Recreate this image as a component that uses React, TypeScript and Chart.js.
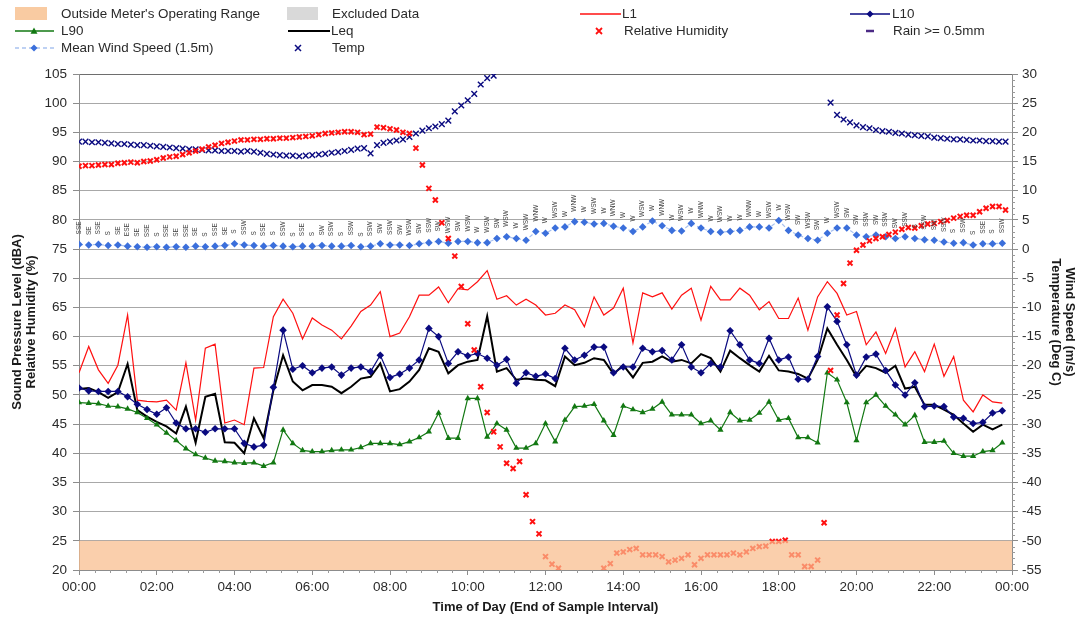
import React, { useEffect, useRef } from "react";
import { Chart, registerables } from "chart.js";
Chart.register(...registerables);

const FONT = "'Liberation Sans', Arial, Helvetica, sans-serif";

// x tick labels (every 2 hours)
const xTickLabels = ["00:00", "02:00", "04:00", "06:00", "08:00", "10:00", "12:00", "14:00", "16:00", "18:00", "20:00", "22:00", "00:00"];

// 15-minute noise statistics (dBA), 00:00 .. 23:45
const L1 = [53.8, 58.3, 54.3, 52.0, 55.1, 63.7, 49.1, 48.9, 48.8, 49.1, 47.4, 55.5, 45.7, 58.0, 58.7, 45.2, 45.7, 44.9, 54.6, 54.7, 63.4, 66.4, 64.0, 59.6, 63.2, 62.0, 61.1, 59.6, 61.8, 64.3, 65.4, 67.7, 60.0, 60.6, 63.4, 67.1, 67.1, 68.5, 65.8, 68.2, 68.0, 69.4, 71.3, 66.4, 67.0, 65.4, 66.4, 65.4, 63.7, 64.0, 65.4, 64.6, 61.7, 66.8, 63.7, 64.9, 68.3, 58.9, 67.5, 66.8, 67.5, 64.7, 67.1, 68.3, 62.8, 68.6, 66.3, 66.3, 68.3, 67.1, 64.6, 66.0, 63.1, 63.1, 66.6, 61.1, 66.8, 69.4, 67.4, 63.7, 64.3, 58.6, 60.8, 57.1, 61.4, 54.8, 57.4, 54.0, 58.7, 53.2, 56.6, 49.1, 47.1, 50.0, 48.8, 48.6];
const L10 = [51.2, 50.7, 50.6, 50.6, 50.6, 49.7, 48.4, 47.5, 46.7, 47.8, 45.2, 44.2, 44.2, 43.6, 44.2, 44.2, 44.2, 41.7, 41.1, 41.4, 51.3, 61.1, 54.4, 55.0, 53.8, 54.6, 54.8, 53.4, 54.6, 54.8, 54.0, 56.8, 53.0, 53.6, 54.6, 56.0, 61.4, 60.0, 55.4, 57.4, 56.7, 57.1, 56.3, 55.1, 56.1, 52.0, 53.8, 53.2, 53.6, 52.8, 58.0, 56.0, 56.8, 58.2, 58.2, 53.8, 54.8, 54.8, 58.0, 57.4, 57.6, 56.0, 58.6, 54.8, 53.8, 55.4, 54.8, 61.0, 58.6, 56.0, 55.4, 59.7, 56.0, 56.5, 52.7, 52.7, 56.6, 65.1, 62.6, 58.6, 53.4, 56.5, 57.0, 54.2, 51.7, 50.0, 52.1, 48.0, 48.1, 48.0, 46.2, 46.0, 45.1, 45.3, 46.9, 47.3];
const L90 = [48.7, 48.6, 48.5, 48.1, 48.0, 47.6, 47.0, 46.0, 44.9, 43.5, 42.2, 40.8, 39.8, 39.2, 38.7, 38.6, 38.4, 38.3, 38.4, 37.8, 38.4, 44.0, 41.7, 40.5, 40.3, 40.3, 40.5, 40.6, 40.6, 41.0, 41.7, 41.7, 41.7, 41.5, 42.0, 42.7, 43.7, 46.9, 42.6, 42.6, 49.4, 49.4, 42.8, 45.1, 44.0, 40.9, 40.9, 41.7, 45.1, 42.0, 45.7, 48.0, 48.1, 48.4, 45.6, 43.1, 48.1, 47.5, 47.0, 47.6, 48.8, 46.6, 46.6, 46.6, 45.1, 45.6, 44.0, 47.0, 45.6, 45.7, 46.9, 48.8, 45.7, 46.0, 42.7, 42.7, 41.8, 53.8, 52.6, 48.7, 42.2, 48.7, 50.0, 48.1, 46.6, 44.9, 46.5, 41.9, 41.9, 42.1, 40.0, 39.5, 39.5, 40.3, 40.5, 41.8];
const Leq = [51.0, 51.2, 50.5, 49.5, 50.5, 55.3, 47.4, 46.3, 45.4, 44.6, 43.4, 48.0, 41.8, 49.7, 50.2, 41.9, 41.8, 40.0, 46.0, 42.6, 50.8, 56.8, 52.3, 50.8, 51.7, 51.7, 51.4, 50.3, 51.4, 52.8, 53.1, 55.4, 50.6, 51.0, 52.3, 54.3, 58.0, 57.4, 53.7, 55.1, 55.7, 56.0, 63.5, 54.0, 54.6, 52.6, 52.8, 52.6, 52.5, 51.5, 56.6, 55.1, 55.5, 56.3, 56.0, 53.6, 55.1, 53.0, 55.5, 55.7, 56.6, 55.7, 56.0, 55.4, 57.0, 56.3, 54.0, 57.6, 56.3, 55.1, 54.0, 56.7, 54.2, 54.0, 53.6, 52.8, 56.0, 61.4, 58.6, 56.0, 53.1, 55.0, 54.6, 53.8, 55.0, 51.1, 51.4, 48.3, 48.3, 47.5, 46.6, 45.1, 43.7, 44.9, 44.1, 44.9];

// 15-minute mean wind speed (m/s) and direction
const windSpeed = [0.8, 0.7, 0.8, 0.6, 0.7, 0.5, 0.4, 0.3, 0.4, 0.3, 0.4, 0.3, 0.5, 0.4, 0.5, 0.6, 0.9, 0.7, 0.6, 0.5, 0.6, 0.5, 0.4, 0.5, 0.5, 0.6, 0.5, 0.5, 0.6, 0.4, 0.5, 0.9, 0.7, 0.7, 0.6, 0.9, 1.1, 1.3, 1.0, 1.3, 1.3, 1.1, 1.1, 1.8, 2.1, 1.8, 1.5, 3.0, 2.7, 3.6, 3.8, 4.7, 4.6, 4.3, 4.4, 3.9, 3.6, 3.0, 3.8, 4.8, 4.0, 3.2, 3.1, 4.4, 3.6, 3.0, 2.9, 3.0, 3.2, 3.8, 3.8, 3.6, 4.9, 3.2, 2.4, 1.8, 1.5, 2.7, 3.6, 3.6, 2.4, 2.1, 2.4, 2.1, 1.8, 2.1, 1.8, 1.6, 1.5, 1.2, 1.0, 1.1, 0.7, 0.9, 0.9, 1.0];
const windDir = [
  "SSE", "SE", "SSE", "S", "SE", "ESE", "SE", "SSE", "S", "SSE",
  "SE", "SSE", "SE", "S", "SSE", "SE", "S", "SSW", "S", "SSE",
  "S", "SSW", "S", "SSE", "S", "SW", "SSW", "S", "SSW", "S",
  "SSW", "SW", "SSW", "SW", "WSW", "SW", "SSW", "SW", "WSW", "SW",
  "WSW", "W", "WSW", "SW", "WSW", "W", "WSW", "WNW", "W", "WSW",
  "W", "WNW", "W", "WSW", "W", "WNW", "W", "W", "WSW", "W",
  "WNW", "W", "WSW", "W", "WNW", "W", "WSW", "W", "W", "WNW",
  "W", "WSW", "W", "WSW", "SW", "WSW", "SW", "W", "WSW", "SW",
  "SW", "SSW", "SW", "SSW", "SW", "SSW", "S", "SSW", "SW", "SSW",
  "S", "SSW", "S", "SSE", "S", "SSW"
];

// 10-minute temperature (deg C), 00:00 .. 23:50 (null = off chart)
const temperature = [18.4, 18.4, 18.3, 18.3, 18.2, 18.1, 18.0, 18.0, 17.9, 17.8, 17.8, 17.7, 17.6, 17.5, 17.4, 17.3, 17.2, 17.1, 17.1, 17.0, 16.9, 16.9, 16.8, 16.8, 16.8, 16.7, 16.8, 16.7, 16.5, 16.3, 16.2, 16.1, 16.0, 16.0, 15.9, 16.0, 16.1, 16.2, 16.3, 16.5, 16.6, 16.8, 17.0, 17.2, 17.3, 16.4, 17.8, 18.2, 18.4, 18.6, 18.8, 19.2, 19.8, 20.3, 20.7, 21.0, 21.4, 22.0, 23.6, 24.6, 25.5, 26.6, 28.2, 29.3, 29.7,
  null, null, null, null, null, null, null, null, null, null, null, null, null, null, null, null, null, null, null, null, null, null, null, null, null, null, null, null, null, null, null, null, null, null, null, null, null, null, null, null, null, null, null, null, null, null, null, null, null, null, null,
  25.1, 23.0, 22.2, 21.7, 21.2, 20.9, 20.7, 20.4, 20.2, 20.1, 19.9, 19.8, 19.6, 19.5, 19.4, 19.3, 19.1, 19.0, 18.9, 18.8, 18.8, 18.7, 18.6, 18.6, 18.5, 18.5, 18.4, 18.4];

// 10-minute relative humidity (%), 00:00 .. 23:50 (null = below axis)
const humidity = [89.2, 89.3, 89.3, 89.4, 89.5, 89.5, 89.7, 89.8, 89.9, 89.8, 90.0, 90.1, 90.3, 90.6, 90.8, 90.9, 91.2, 91.5, 91.8, 92.1, 92.5, 92.8, 93.1, 93.3, 93.5, 93.7, 93.7, 93.8, 93.8, 93.9, 93.9, 94.0, 94.0, 94.1, 94.2, 94.3, 94.4, 94.6, 94.8, 94.9, 95.0, 95.1, 95.1, 95.0, 94.6, 94.7, 95.9, 95.8, 95.6, 95.4, 95.0, 94.8,
  92.3, 89.4, 85.4, 83.4, 79.5, 76.8, 73.8, 68.6, 62.2, 57.7, 51.4, 47.0, 43.7, 41.1, 38.3, 37.4, 38.6, 32.9, 28.3, 26.2, 22.3, 21.0, 20.3,
  null, null, null, null, null, null,
  20.3, 21.1, 22.9, 23.1, 23.5, 23.7, 22.6, 22.6, 22.6, 22.3, 21.4, 21.7, 22.0, 22.6, 20.9, 22.0, 22.6, 22.6, 22.6, 22.6, 22.9, 22.6, 23.1, 23.7, 24.0, 24.1, 24.9, 24.9, 25.1, 22.6, 22.6, 20.6, 20.6, 21.7, 28.1,
  54.2, 63.7, 69.1, 72.6, 74.8, 75.7, 76.4, 76.8, 77.1, 77.5, 77.9, 78.4, 78.7, 78.6, 79.0, 79.3, 79.4, 79.7, 79.9, 80.3, 80.6, 80.8, 80.8, 81.4, 82.0, 82.3, 82.3, 81.7];

const legendLabels = {
  band: "Outside Meter's Operating Range",
  excluded: "Excluded Data",
  l1: "L1",
  l10: "L10",
  l90: "L90",
  leq: "Leq",
  rh: "Relative Humidity",
  rain: "Rain >= 0.5mm",
  wind: "Mean Wind Speed (1.5m)",
  temp: "Temp",
};

const RED = "#FF1010";
const NAVY = "#0A0A80";
const GREEN = "#127812";
const WIND_BLUE = "#3B6FDB";
const WIND_LINE = "#A9C2F0";
const TEXT = "#2A2A2A";

const every15 = (arr: number[]) => arr.map((y, i) => ({ x: i * 15, y }));
const every10 = (arr: (number | null)[]) => arr.map((y, i) => ({ x: i * 10, y }));

function diamond(ctx: CanvasRenderingContext2D, x: number, y: number, r: number) {
  ctx.beginPath();
  ctx.moveTo(x, y - r);
  ctx.lineTo(x + r, y);
  ctx.lineTo(x, y + r);
  ctx.lineTo(x - r, y);
  ctx.closePath();
  ctx.fill();
}
function triangle(ctx: CanvasRenderingContext2D, x: number, y: number, r: number) {
  ctx.beginPath();
  ctx.moveTo(x, y - r);
  ctx.lineTo(x + r, y + r * 0.75);
  ctx.lineTo(x - r, y + r * 0.75);
  ctx.closePath();
  ctx.fill();
}
function cross(ctx: CanvasRenderingContext2D, x: number, y: number, r: number) {
  ctx.beginPath();
  ctx.moveTo(x - r, y - r);
  ctx.lineTo(x + r, y + r);
  ctx.moveTo(x + r, y - r);
  ctx.lineTo(x - r, y + r);
  ctx.stroke();
}
function hline(ctx: CanvasRenderingContext2D, x1: number, x2: number, y: number, color: string, w: number, dash: number[] = []) {
  ctx.save();
  ctx.strokeStyle = color;
  ctx.lineWidth = w;
  ctx.setLineDash(dash);
  ctx.beginPath();
  ctx.moveTo(x1, y);
  ctx.lineTo(x2, y);
  ctx.stroke();
  ctx.restore();
}

const legendPlugin = {
  id: "customLegend",
  afterDraw(chart: any) {
    const ctx: CanvasRenderingContext2D = chart.ctx;
    ctx.save();
    const r1 = 14, r2 = 31, r3 = 48;
    // row 1
    ctx.fillStyle = "#F9CBA2";
    ctx.fillRect(15, 7, 32, 13);
    ctx.fillStyle = "#D9D9D9";
    ctx.fillRect(287, 7, 31, 13);
    hline(ctx, 580, 621, r1, RED, 1.3);
    hline(ctx, 850, 890, r1, NAVY, 1.3);
    ctx.fillStyle = NAVY;
    diamond(ctx, 870, r1, 3.5);
    // row 2
    hline(ctx, 15, 54, r2, GREEN, 1.3);
    ctx.fillStyle = GREEN;
    triangle(ctx, 34, r2, 3.5);
    hline(ctx, 288, 330, r2, "#000", 2);
    ctx.strokeStyle = RED;
    ctx.lineWidth = 1.8;
    cross(ctx, 599, r2, 3);
    hline(ctx, 866, 874, r2, "#4B2A85", 2.5);
    // row 3
    hline(ctx, 15, 54, r3, WIND_LINE, 1.3, [4, 3]);
    ctx.fillStyle = WIND_BLUE;
    diamond(ctx, 34, r3, 3.5);
    ctx.strokeStyle = NAVY;
    ctx.lineWidth = 1.5;
    cross(ctx, 298, r3, 3);
    // texts
    ctx.fillStyle = TEXT;
    ctx.font = `13.4px ${FONT}`;
    ctx.textBaseline = "middle";
    ctx.textAlign = "left";
    ctx.fillText(legendLabels.band, 61, r1);
    ctx.fillText(legendLabels.excluded, 332, r1);
    ctx.fillText(legendLabels.l1, 622, r1);
    ctx.fillText(legendLabels.l10, 892, r1);
    ctx.fillText(legendLabels.l90, 61, r2);
    ctx.fillText(legendLabels.leq, 331, r2);
    ctx.fillText(legendLabels.rh, 624, r2);
    ctx.fillText(legendLabels.rain, 893, r2);
    ctx.fillText(legendLabels.wind, 61, r3);
    ctx.fillText(legendLabels.temp, 332, r3);
    ctx.restore();
  },
};

const overlayPlugin = {
  id: "overlays",
  afterDatasetsDraw(chart: any) {
    const ctx: CanvasRenderingContext2D = chart.ctx;
    const xs = chart.scales.x;
    const y = chart.scales.y;
    const y1 = chart.scales.y1;
    const area = chart.chartArea;
    ctx.save();
    // wind direction labels
    ctx.fillStyle = "#3E3E3E";
    ctx.font = `6.5px ${FONT}`;
    ctx.textBaseline = "middle";
    ctx.textAlign = "left";
    windSpeed.forEach((w, i) => {
      const px = xs.getPixelForValue(i * 15);
      const py = y1.getPixelForValue(w);
      ctx.save();
      ctx.translate(px, py - 10);
      ctx.rotate(-Math.PI / 2);
      ctx.fillText(windDir[i], 0, 0);
      ctx.restore();
    });
    // operating range band (20 - 25 dBA)
    const top = y.getPixelForValue(25);
    const bot = y.getPixelForValue(20);
    ctx.fillStyle = "rgba(248, 188, 140, 0.72)";
    ctx.fillRect(area.left, top, area.right - area.left, bot - top);
    ctx.restore();
  },
  afterDraw(chart: any) {
    const ctx: CanvasRenderingContext2D = chart.ctx;
    const y1 = chart.scales.y1;
    const xs = chart.scales.x;
    const area = chart.chartArea;
    ctx.save();
    ctx.strokeStyle = "#9A9A9A";
    ctx.lineWidth = 1;
    for (let v = -55; v <= 30; v += 1) {
      if (v % 5 === 0) continue;
      const py = Math.round(y1.getPixelForValue(v)) + 0.5;
      ctx.beginPath();
      ctx.moveTo(area.right, py);
      ctx.lineTo(area.right + 3, py);
      ctx.stroke();
    }
    for (let m = 0; m <= 1440; m += 24) {
      if (m % 120 === 0) continue;
      const px = Math.round(xs.getPixelForValue(m)) + 0.5;
      ctx.beginPath();
      ctx.moveTo(px, area.bottom);
      ctx.lineTo(px, area.bottom + 3);
      ctx.stroke();
    }
    ctx.restore();
  },
};

export default function App() {
  const ref = useRef<HTMLCanvasElement | null>(null);
  useEffect(() => {
    document.body.style.margin = "0";
    if (!ref.current) return;
    Chart.defaults.font.family = FONT;
    const chart = new Chart(ref.current, {
      type: "line",
      data: {
        datasets: [
          {
            label: "Relative Humidity",
            data: every10(humidity),
            yAxisID: "y",
            showLine: false,
            pointStyle: "crossRot",
            pointRadius: 3.5,
            pointBorderWidth: 2,
            borderColor: RED,
            backgroundColor: RED,
          },
          {
            label: "Temp",
            data: every10(temperature),
            yAxisID: "y1",
            showLine: false,
            pointStyle: "crossRot",
            pointRadius: 4,
            pointBorderWidth: 1.4,
            borderColor: NAVY,
            backgroundColor: NAVY,
          },
          {
            label: "L90",
            data: every15(L90),
            yAxisID: "y",
            borderColor: GREEN,
            backgroundColor: GREEN,
            borderWidth: 1.2,
            pointStyle: "triangle",
            pointRadius: 3.6,
            pointBorderWidth: 0,
          },
          {
            label: "L10",
            data: every15(L10),
            yAxisID: "y",
            borderColor: NAVY,
            backgroundColor: NAVY,
            borderWidth: 1.2,
            pointStyle: "rectRot",
            pointRadius: 3.8,
            pointBorderWidth: 0,
          },
          {
            label: "Leq",
            data: every15(Leq),
            yAxisID: "y",
            borderColor: "#000",
            backgroundColor: "#000",
            borderWidth: 2,
            pointRadius: 0,
          },
          {
            label: "L1",
            data: every15(L1),
            yAxisID: "y",
            borderColor: RED,
            backgroundColor: RED,
            borderWidth: 1.2,
            pointRadius: 0,
          },
          {
            label: "Mean Wind Speed (1.5m)",
            data: every15(windSpeed),
            yAxisID: "y1",
            borderColor: WIND_LINE,
            backgroundColor: WIND_BLUE,
            borderWidth: 1.2,
            borderDash: [4, 3],
            pointStyle: "rectRot",
            pointRadius: 3.8,
            pointBorderWidth: 0,
          },
        ],
      },
      options: {
        animation: false,
        responsive: false,
        devicePixelRatio: 1,
        spanGaps: false,
        layout: { padding: { top: 74, left: 0, right: 0, bottom: 0 } },
        plugins: { legend: { display: false }, tooltip: { enabled: false } },
        scales: {
          x: {
            type: "linear",
            min: 0,
            max: 1440,
            afterFit: (s: any) => { s.height = 48; },
            ticks: {
              stepSize: 120,
              autoSkip: false,
              maxRotation: 0,
              color: TEXT,
              font: { size: 13.5 },
              padding: 4,
              callback: (v: any) => xTickLabels[Math.round(Number(v) / 120)] ?? "",
            },
            grid: { drawOnChartArea: false, drawTicks: true, tickLength: 5, color: "#8C8C8C" },
            border: { color: "#8C8C8C" },
            title: {
              display: true,
              text: "Time of Day (End of Sample Interval)",
              color: "#1A1A1A",
              font: { size: 13, weight: "bold" },
              padding: { top: 0, bottom: 3 },
            },
          },
          y: {
            position: "left",
            min: 20,
            max: 105,
            afterFit: (s: any) => { s.width = 79; },
            ticks: { stepSize: 5, color: TEXT, font: { size: 13.5 }, padding: 6 },
            grid: {
              color: (c: any) => (c.tick && c.tick.value === 105 ? "#6E6E6E" : "#A8A8A8"),
              tickColor: "#8C8C8C",
              tickLength: 6,
              lineWidth: 1,
            },
            border: { color: "#8C8C8C" },
            title: {
              display: true,
              text: ["Sound Pressure Level (dBA)", "Relative Humidity (%)"],
              color: "#1A1A1A",
              font: { size: 13, weight: "bold", lineHeight: 1.05 },
              padding: { top: 11, bottom: 0 },
            },
          },
          y1: {
            position: "right",
            min: -55,
            max: 30,
            afterFit: (s: any) => { s.width = 69; },
            ticks: { stepSize: 5, color: TEXT, font: { size: 13.5 }, padding: 4 },
            grid: { drawOnChartArea: false, tickLength: 6, color: "#8C8C8C" },
            border: { color: "#8C8C8C" },
            title: {
              display: true,
              text: ["Wind Speed (m/s)", "Temperature (Deg C)"],
              color: "#1A1A1A",
              font: { size: 13, weight: "bold", lineHeight: 1.05 },
              padding: { top: 5, bottom: 0 },
            },
          },
        },
      } as any,
      plugins: [legendPlugin, overlayPlugin],
    });
    return () => chart.destroy();
  }, []);
  return (
    <div style={{ position: "absolute", left: 0, top: 0, width: 1081, height: 618, background: "#fff" }}>
      <canvas ref={ref} width={1081} height={618} style={{ display: "block", width: 1081, height: 618 }} />
    </div>
  );
}
